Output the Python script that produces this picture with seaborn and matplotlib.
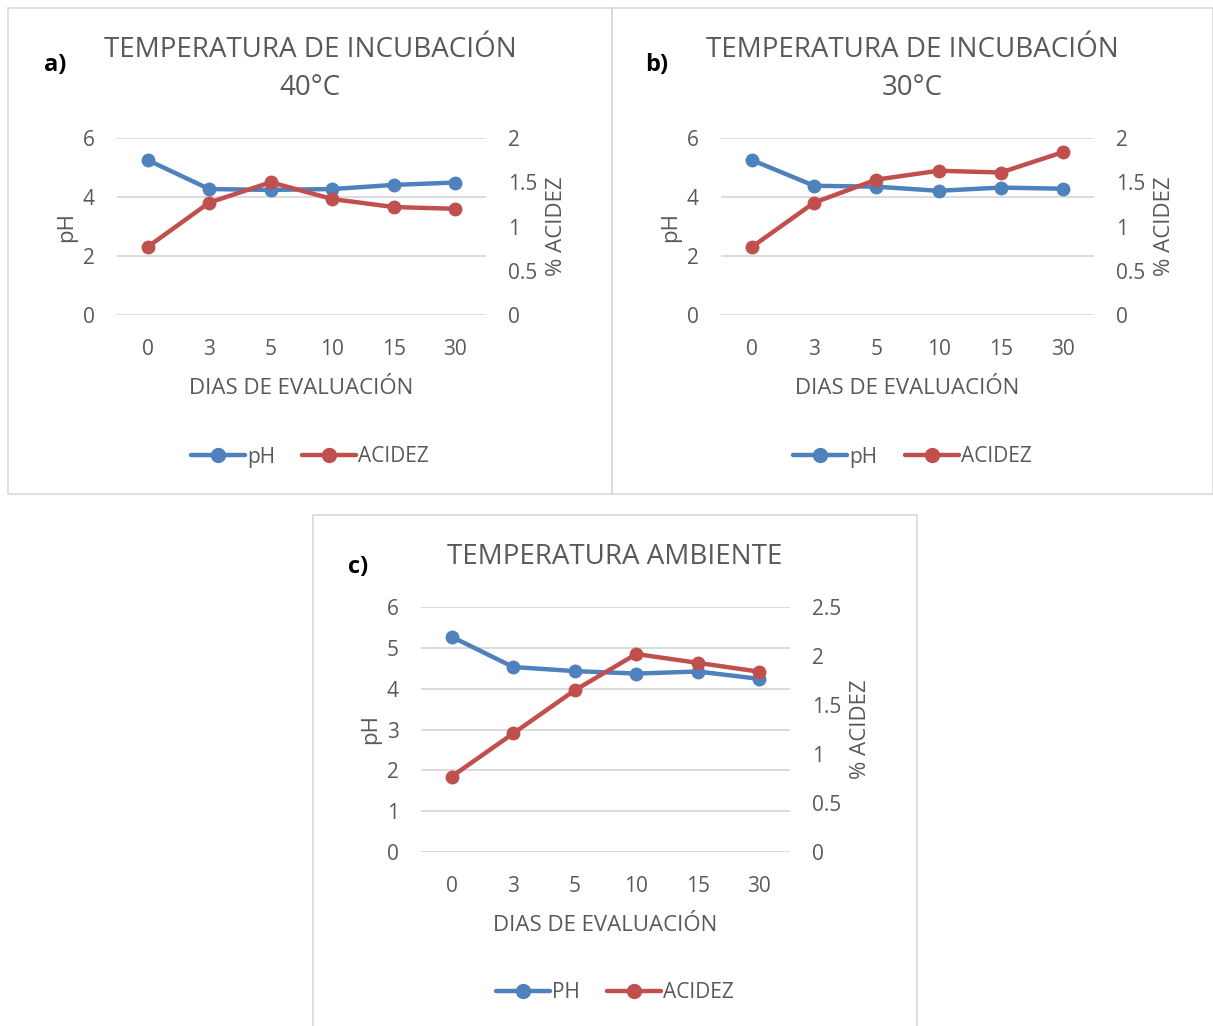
import numpy as np
import pandas as pd
import matplotlib
matplotlib.use("Agg")
import matplotlib.pyplot as plt
from matplotlib.patches import Rectangle
from matplotlib.lines import Line2D
import seaborn as sns

# datos
dias = ["0", "3", "5", "10", "15", "30"]

ph_40 = [5.25, 4.27, 4.24, 4.27, 4.41, 4.49]
acidez_40 = [0.77, 1.27, 1.50, 1.31, 1.22, 1.20]

ph_30 = [5.25, 4.38, 4.35, 4.21, 4.32, 4.28]
acidez_30 = [0.77, 1.27, 1.53, 1.63, 1.61, 1.84]

ph_amb = [5.27, 4.53, 4.43, 4.37, 4.42, 4.24]
acidez_amb = [0.77, 1.21, 1.65, 2.02, 1.93, 1.84]

AZUL = "#4f81bd"
ROJO = "#c0504d"
GRIS_TXT = "#595959"
GRIS_LIN = "#d9d9d9"

W, H = 1213, 1026

sns.set_theme(style="white")
plt.rcParams["font.family"] = ["Open Sans", "DejaVu Sans"]

fig = plt.figure(figsize=(W / 100, H / 100), dpi=100)


def caja(x0, y0, x1, y1):
    # coordenadas en pixeles (origen arriba a la izquierda) -> figura
    return [x0 / W, 1 - y1 / H, (x1 - x0) / W, (y1 - y0) / H]


def panel(rect, marco, ph, acidez, titulo, letra, letra_xy, ph_lim, ph_ticks,
          ac_lim, ac_ticks, nombre_ph):
    # marco del grafico
    fx0, fy0, fx1, fy1 = marco
    fig.patches.append(Rectangle((fx0 / W, 1 - fy1 / H), (fx1 - fx0) / W, (fy1 - fy0) / H,
                                 transform=fig.transFigure, fill=False,
                                 edgecolor=GRIS_LIN, linewidth=1.2))

    df = pd.DataFrame({"dia": pd.Categorical(dias, categories=dias, ordered=True),
                       "ph": ph, "acidez": acidez})

    ax = fig.add_axes(caja(*rect))
    ax2 = ax.twinx()

    sns.lineplot(data=df, x="dia", y="acidez", ax=ax2, color=ROJO, linewidth=3.2,
                 marker="o", markersize=10, markeredgewidth=0, sort=False)
    sns.lineplot(data=df, x="dia", y="ph", ax=ax, color=AZUL, linewidth=3.2,
                 marker="o", markersize=10, markeredgewidth=0, sort=False)
    # el rojo queda encima, como en el original
    ax.set_zorder(ax2.get_zorder() - 1)
    ax2.patch.set_visible(False)
    ax.patch.set_facecolor("white")

    ax.set_xlim(-0.5, 5.5)
    ax.set_ylim(*ph_lim)
    ax.set_yticks(ph_ticks)
    ax.set_yticklabels([f"{t:g}" for t in ph_ticks])
    ax2.set_ylim(*ac_lim)
    ax2.set_yticks(ac_ticks)
    ax2.set_yticklabels([f"{t:g}" for t in ac_ticks])

    ax.grid(axis="y", color=GRIS_LIN, linewidth=1.3)
    ax.grid(axis="x", visible=False)
    ax2.grid(False)
    for a in (ax, ax2):
        for s in a.spines.values():
            s.set_visible(False)
    ax.tick_params(axis="both", length=0, labelsize=15, labelcolor=GRIS_TXT)
    ax.tick_params(axis="y", pad=16)
    ax.tick_params(axis="x", pad=17)
    ax2.tick_params(axis="y", length=0, labelsize=15, labelcolor=GRIS_TXT, pad=16)

    ax.set_xlabel("DIAS DE EVALUACIÓN", fontsize=16, color=GRIS_TXT, labelpad=13)
    ax.set_ylabel("pH", fontsize=16, color=GRIS_TXT, labelpad=4)
    ax2.set_ylabel("% ACIDEZ", fontsize=16, color=GRIS_TXT, labelpad=6)

    cx = (fx0 + fx1) / 2
    fig.text(cx / W, 1 - titulo[1] / H, titulo[0], ha="center", va="center",
             fontsize=20, color=GRIS_TXT, linespacing=1.48)
    fig.text(letra_xy[0] / W, 1 - letra_xy[1] / H, letra, ha="center", va="center",
             fontsize=17, fontweight="bold", color="black")

    manejadores = [Line2D([], [], color=AZUL, linewidth=3.2, marker="o", markersize=10),
                   Line2D([], [], color=ROJO, linewidth=3.2, marker="o", markersize=10)]
    fig.legend(manejadores, [nombre_ph, "ACIDEZ"], loc="center",
               bbox_to_anchor=(cx / W, 1 - titulo[2] / H), ncol=2, frameon=False,
               fontsize=15, labelcolor=GRIS_TXT, handlelength=2.6,
               handletextpad=0.1, columnspacing=1.3)


panel((117, 138, 486, 315), (8, 8, 612, 494), ph_40, acidez_40,
      ("TEMPERATURA DE INCUBACIÓN\n40°C", 69, 457), "a)", (55, 65),
      (0, 6), [0, 2, 4, 6], (0, 2), [0, 0.5, 1, 1.5, 2], "pH")

panel((721, 138, 1094, 315), (612, 8, 1213, 494), ph_30, acidez_30,
      ("TEMPERATURA DE INCUBACIÓN\n30°C", 69, 457), "b)", (657, 65),
      (0, 6), [0, 2, 4, 6], (0, 2), [0, 0.5, 1, 1.5, 2], "pH")

panel((421, 607, 790, 852), (313, 515, 917, 1030), ph_amb, acidez_amb,
      ("TEMPERATURA AMBIENTE", 557, 993), "c)", (358, 567),
      (0, 6), [0, 1, 2, 3, 4, 5, 6], (0, 2.5), [0, 0.5, 1, 1.5, 2, 2.5], "PH")

fig.savefig("out.png", dpi=100, facecolor="white")
